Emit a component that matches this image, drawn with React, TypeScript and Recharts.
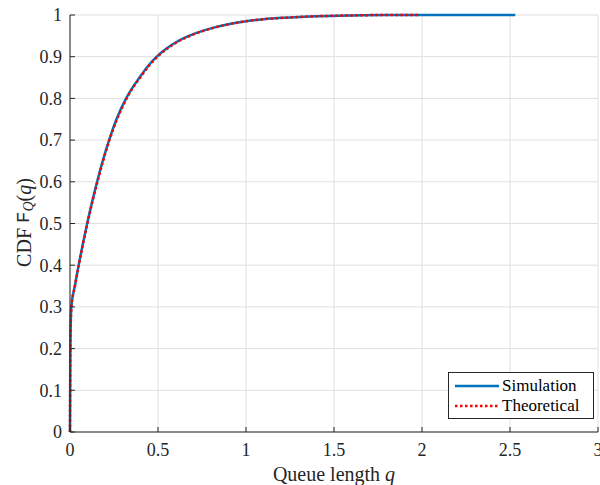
import React from "react";
import { LineChart, Line, XAxis, YAxis, CartesianGrid, Legend } from "recharts";

const simulation = [
  { q: 0, F: 0 },
  { q: 0.002, F: 0.2 },
  { q: 0.0075, F: 0.3 },
  { q: 0.0275, F: 0.35 },
  { q: 0.049, F: 0.4 },
  { q: 0.0725, F: 0.45 },
  { q: 0.0975, F: 0.5 },
  { q: 0.1245, F: 0.55 },
  { q: 0.154, F: 0.6 },
  { q: 0.186, F: 0.65 },
  { q: 0.222, F: 0.7 },
  { q: 0.264, F: 0.75 },
  { q: 0.319, F: 0.8 },
  { q: 0.355, F: 0.826 },
  { q: 0.395, F: 0.85 },
  { q: 0.44, F: 0.876 },
  { q: 0.493, F: 0.9 },
  { q: 0.55, F: 0.92 },
  { q: 0.6, F: 0.934 },
  { q: 0.65, F: 0.945 },
  { q: 0.7, F: 0.954 },
  { q: 0.8, F: 0.968 },
  { q: 0.9, F: 0.978 },
  { q: 1.0, F: 0.985 },
  { q: 1.1, F: 0.99 },
  { q: 1.25, F: 0.994 },
  { q: 1.4, F: 0.997 },
  { q: 1.6, F: 0.999 },
  { q: 1.8, F: 1.0 },
  { q: 2.0, F: 1.0 },
  { q: 2.53, F: 1.0 },
];

const theoretical = [
  { q: 0, F: 0 },
  { q: 0.002, F: 0.2 },
  { q: 0.0078, F: 0.3 },
  { q: 0.028, F: 0.35 },
  { q: 0.0497, F: 0.4 },
  { q: 0.0735, F: 0.45 },
  { q: 0.0988, F: 0.5 },
  { q: 0.126, F: 0.55 },
  { q: 0.156, F: 0.6 },
  { q: 0.188, F: 0.65 },
  { q: 0.224, F: 0.7 },
  { q: 0.267, F: 0.75 },
  { q: 0.322, F: 0.8 },
  { q: 0.358, F: 0.826 },
  { q: 0.399, F: 0.85 },
  { q: 0.444, F: 0.876 },
  { q: 0.497, F: 0.9 },
  { q: 0.555, F: 0.92 },
  { q: 0.605, F: 0.934 },
  { q: 0.655, F: 0.945 },
  { q: 0.705, F: 0.954 },
  { q: 0.805, F: 0.968 },
  { q: 0.905, F: 0.978 },
  { q: 1.0, F: 0.985 },
  { q: 1.1, F: 0.99 },
  { q: 1.25, F: 0.994 },
  { q: 1.4, F: 0.997 },
  { q: 1.6, F: 0.999 },
  { q: 1.8, F: 1.0 },
  { q: 1.99, F: 1.0 },
];

const xTicks = [0, 0.5, 1, 1.5, 2, 2.5, 3];
const yTicks = [0, 0.1, 0.2, 0.3, 0.4, 0.5, 0.6, 0.7, 0.8, 0.9, 1];
const seriesNames = ["Simulation", "Theoretical"];

const FONT = '"Liberation Serif", "DejaVu Serif", serif';
const AX = "#262626";
const BLUE = "#0072BD";
const RED = "#FF0000";

const tickStyle = { fontFamily: FONT, fontSize: 18, fill: AX, style: { fontFamily: FONT } };

const XTitle = (props: any) => {
  const vb = props.viewBox || { x: 70, y: 432, width: 528 };
  return (
    <text
      x={vb.x + vb.width / 2}
      y={481}
      textAnchor="middle"
      fontSize={20}
      fill={AX}
      style={{ fontFamily: FONT }}
    >
      Queue length <tspan fontStyle="italic">q</tspan>
    </text>
  );
};

const YTitle = (props: any) => {
  const vb = props.viewBox || { x: 0, y: 15, width: 70, height: 417 };
  const cx = 24;
  const cy = vb.y + vb.height / 2 - 1;
  return (
    <text
      x={cx}
      y={cy}
      transform={`rotate(-90, ${cx}, ${cy})`}
      textAnchor="middle"
      dominantBaseline="central"
      fontSize={20}
      fill={AX}
      style={{ fontFamily: FONT }}
    >
      CDF{" "}
      <tspan style={{ fontFamily: '"Liberation Mono", "DejaVu Sans Mono", monospace' }} fontSize={19}>F</tspan>
      <tspan fontStyle="italic" fontSize={14} dy={4}>Q</tspan>
      <tspan dy={-4}>(</tspan>
      <tspan fontStyle="italic">q</tspan>
      <tspan>)</tspan>
    </text>
  );
};

const renderLegend = () => (
  <div
    style={{
      width: 146,
      height: 47,
      boxSizing: "border-box",
      border: `1px solid ${AX}`,
      background: "#fff",
      fontFamily: FONT,
      fontSize: 17,
      color: "#000",
      paddingTop: 3,
    }}
  >
    {seriesNames.map((name, i) => (
      <div key={name} style={{ display: "flex", alignItems: "center", height: 20, marginLeft: 6 }}>
        <svg width={44} height={6} style={{ marginRight: 3 }}>
          <line
            x1={0}
            y1={3}
            x2={44}
            y2={3}
            stroke={i === 0 ? BLUE : RED}
            strokeWidth={2.5}
            strokeDasharray={i === 0 ? undefined : "2.5 2.5"}
          />
        </svg>
        <span style={{ lineHeight: "20px", fontFamily: FONT }}>{name}</span>
      </div>
    ))}
  </div>
);

export default function App() {
  return (
    <div style={{ position: "absolute", left: 0, top: 0, width: 600, height: 485, background: "#fff", fontFamily: FONT }}>
      <LineChart width={600} height={485} margin={{ top: 15, right: 2, left: 0, bottom: 0 }} style={{ fontFamily: FONT }}>
        <CartesianGrid stroke="#dfdfdf" strokeWidth={1} horizontal vertical xAxisId="bottom" yAxisId="left" />
        <XAxis
          xAxisId="bottom"
          dataKey="q"
          type="number"
          domain={[0, 3]}
          ticks={xTicks}
          allowDuplicatedCategory={false}
          height={53}
          tickSize={-5}
          tickMargin={16}
          tick={tickStyle}
          axisLine={{ stroke: AX, strokeWidth: 1 }}
          tickLine={{ stroke: AX, strokeWidth: 1 }}
          interval={0}
          label={<XTitle />}
        />
        <XAxis
          xAxisId="top"
          orientation="top"
          dataKey="q"
          type="number"
          domain={[0, 3]}
          ticks={xTicks}
          height={0}
          tickSize={-5}
          tick={false}
          axisLine={{ stroke: AX, strokeWidth: 1 }}
          tickLine={{ stroke: AX, strokeWidth: 1 }}
          interval={0}
        />
        <YAxis
          yAxisId="left"
          type="number"
          domain={[0, 1]}
          ticks={yTicks}
          width={70}
          tickSize={-5}
          tickMargin={13}
          tick={tickStyle}
          axisLine={{ stroke: AX, strokeWidth: 1 }}
          tickLine={{ stroke: AX, strokeWidth: 1 }}
          interval={0}
          label={<YTitle />}
        />
        <YAxis
          yAxisId="right"
          orientation="right"
          type="number"
          domain={[0, 1]}
          ticks={yTicks}
          width={0}
          tickSize={-5}
          tick={false}
          axisLine={{ stroke: AX, strokeWidth: 1 }}
          tickLine={{ stroke: AX, strokeWidth: 1 }}
          interval={0}
        />
        <Line
          xAxisId="bottom"
          yAxisId="left"
          data={simulation}
          dataKey="F"
          name={seriesNames[0]}
          type="monotone"
          stroke={BLUE}
          strokeWidth={2.5}
          dot={false}
          isAnimationActive={false}
        />
        <Line
          xAxisId="bottom"
          yAxisId="left"
          data={theoretical}
          dataKey="F"
          name={seriesNames[1]}
          type="monotone"
          stroke={RED}
          strokeWidth={2.5}
          strokeDasharray="2.5 2.5"
          dot={false}
          isAnimationActive={false}
        />
        <Legend
          layout="vertical"
          align="center"
          verticalAlign="middle"
          content={renderLegend}
          wrapperStyle={{ position: "absolute", left: 448, top: 372, width: 146, height: 47 }}
        />
      </LineChart>
    </div>
  );
}
